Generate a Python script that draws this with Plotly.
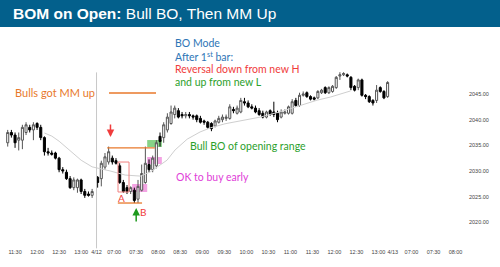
import plotly.graph_objects as go

# ---------------- data (5-min bars) ----------------
day1_open  = [2035.5, 2037.5, 2037.0, 2036.0, 2036.0, 2037.5, 2038.5, 2038.0, 2039.25, 2038.5, 2036.5, 2033.75,
              2033.5, 2033.5, 2032.5, 2030.25, 2029.75, 2028.5, 2026.75, 2026.75, 2028.25, 2026.0, 2025.5, 2025.25]
day1_high  = [2038.0, 2038.0, 2037.5, 2037.5, 2039.0, 2039.5, 2039.0, 2039.5, 2039.5, 2039.0, 2036.75, 2034.5,
              2034.0, 2033.75, 2032.75, 2030.75, 2030.25, 2029.0, 2028.75, 2028.5, 2028.5, 2026.5, 2026.0, 2026.5]
day1_low   = [2034.75, 2036.5, 2034.5, 2034.0, 2034.25, 2037.0, 2037.5, 2036.0, 2038.0, 2036.0, 2033.0, 2033.0,
              2033.0, 2032.25, 2029.75, 2029.5, 2028.25, 2026.5, 2026.25, 2025.75, 2025.5, 2024.75, 2025.0, 2024.75]
day1_close = [2037.5, 2037.0, 2035.5, 2036.5, 2038.5, 2039.0, 2038.0, 2039.0, 2038.5, 2036.5, 2033.75, 2033.5,
              2033.25, 2032.5, 2030.25, 2030.0, 2028.5, 2026.75, 2028.25, 2028.25, 2026.0, 2025.25, 2025.25, 2026.0]

day2_open  = [2028.75, 2028.5, 2030.75, 2031.75, 2032.5, 2032.0, 2031.0, 2027.75, 2026.75, 2026.0,
              2026.25, 2024.5, 2026.25, 2027.75, 2031.25, 2030.25, 2031.0, 2036.75, 2036.5, 2038.0,
              2039.25, 2041.0, 2041.75, 2041.0, 2040.75, 2041.0, 2040.75, 2040.75, 2040.25, 2039.75,
              2039.5, 2039.25, 2038.75, 2039.5, 2040.0, 2040.25, 2040.25, 2042.0, 2041.25, 2041.5,
              2043.5, 2043.25, 2042.5, 2042.25, 2041.75, 2041.25, 2040.5, 2041.75, 2041.5, 2041.25,
              2040.5, 2041.25, 2041.25, 2041.25, 2043.75, 2042.75, 2044.75, 2045.25, 2044.5, 2044.25,
              2044.25, 2045.25, 2046.25, 2045.25, 2045.5, 2046.25, 2048.5, 2048.75, 2048.75, 2048.25,
              2046.5, 2046.25, 2047.75, 2044.75, 2044.5, 2043.75, 2043.75, 2046.25, 2045.5, 2044.5]
day2_high  = [2029.0, 2032.0, 2033.5, 2034.75, 2033.0, 2032.5, 2031.5, 2028.25, 2027.25, 2027.0,
              2026.75, 2028.25, 2031.25, 2034.75, 2032.25, 2033.0, 2036.0, 2037.5, 2039.5, 2041.25,
              2042.75, 2042.75, 2042.25, 2041.5, 2041.5, 2041.5, 2041.0, 2041.0, 2040.75, 2040.0,
              2039.75, 2039.5, 2040.0, 2040.75, 2041.0, 2041.0, 2043.0, 2042.5, 2042.75, 2044.25,
              2044.25, 2043.75, 2043.0, 2042.75, 2042.25, 2041.75, 2041.75, 2042.0, 2043.5, 2041.75,
              2042.0, 2042.0, 2042.75, 2044.0, 2044.25, 2045.25, 2045.5, 2045.5, 2044.75, 2044.5,
              2045.75, 2046.0, 2046.5, 2046.5, 2046.75, 2048.5, 2049.25, 2049.25, 2049.0, 2048.5,
              2046.75, 2048.0, 2048.0, 2045.0, 2044.75, 2044.0, 2046.75, 2046.5, 2045.75, 2047.5]
day2_low   = [2026.75, 2027.0, 2030.25, 2031.25, 2031.25, 2031.25, 2027.5, 2025.75, 2025.5, 2025.5,
              2023.75, 2023.75, 2026.0, 2027.5, 2029.75, 2029.75, 2030.5, 2034.75, 2035.5, 2037.5,
              2039.0, 2040.25, 2040.25, 2040.25, 2040.25, 2040.25, 2040.0, 2039.5, 2039.25, 2039.0,
              2038.25, 2037.75, 2038.5, 2039.25, 2039.5, 2039.75, 2040.0, 2041.25, 2041.0, 2041.25,
              2042.75, 2042.25, 2042.0, 2041.25, 2040.75, 2040.25, 2040.25, 2040.75, 2040.5, 2039.5,
              2040.25, 2041.0, 2041.0, 2041.0, 2042.5, 2042.5, 2044.5, 2044.25, 2043.75, 2043.75,
              2044.0, 2045.0, 2045.0, 2045.0, 2045.25, 2046.0, 2047.75, 2048.5, 2048.25, 2045.75,
              2045.5, 2045.75, 2044.5, 2044.0, 2043.25, 2042.75, 2043.25, 2045.25, 2044.0, 2044.25]
day2_close = [2027.75, 2031.5, 2032.75, 2033.75, 2031.75, 2031.5, 2027.75, 2026.0, 2026.0, 2026.75,
              2024.25, 2027.0, 2029.5, 2031.5, 2030.25, 2032.5, 2035.5, 2035.75, 2039.0, 2040.5,
              2041.5, 2042.25, 2040.5, 2040.75, 2041.0, 2040.75, 2040.5, 2040.0, 2039.5, 2039.5,
              2038.5, 2038.25, 2039.75, 2040.25, 2040.5, 2040.5, 2042.5, 2041.75, 2042.25, 2043.75,
              2043.25, 2042.5, 2042.25, 2041.5, 2041.0, 2040.5, 2041.5, 2041.0, 2041.0, 2040.0,
              2041.5, 2041.5, 2042.5, 2043.5, 2042.75, 2044.75, 2045.0, 2044.5, 2044.0, 2044.0,
              2045.5, 2045.75, 2045.25, 2046.25, 2046.5, 2048.25, 2048.75, 2049.0, 2048.5, 2046.25,
              2045.75, 2047.75, 2044.75, 2044.5, 2043.5, 2043.25, 2045.75, 2045.5, 2044.25, 2047.25]

# moving average (bar index, price)
ema_x = [10, 12, 14, 16, 18, 20, 23, 24.5, 27.9, 32, 36.1, 38.8, 41.5, 43.4, 45.6, 48.9, 52.4, 55.2,
         59.2, 64.1, 68.8, 75, 79.7, 84.3, 87.9, 90.6, 93.4]
ema_y = [2037.4, 2036.8, 2035.8, 2034.5, 2033.3, 2032.1, 2030.8, 2030.6, 2030.0, 2029.2, 2029.0, 2029.8,
         2031.2, 2032.1, 2034.1, 2036.2, 2037.6, 2038.4, 2039.2, 2039.9, 2040.5, 2041.7, 2042.7, 2043.8,
         2044.4, 2045.0, 2045.6]

tick_pos = [2, 8, 14, 20, 24.2, 29, 35, 41, 47, 53, 59, 65, 71, 77, 83, 89, 95, 101, 104.9, 110, 116, 122]
tick_text = ['11:30', '12:00', '12:30', '13:00', '4/12', '07:00', '07:30', '08:00', '08:30', '09:00',
             '09:30', '10:00', '10:30', '11:00', '11:30', '12:00', '12:30', '13:00', '4/13', '07:00',
             '07:30', '08:00']
price_ticks = [2020, 2025, 2030, 2035, 2040, 2045]

# ---------------- figure ----------------
x1 = list(range(len(day1_open)))
x2 = [24.5 + k for k in range(len(day2_open))]

fig = go.Figure()
fig.add_trace(go.Scatter(x=ema_x, y=ema_y, mode='lines', line=dict(color='#cfcfcf', width=1),
                         hoverinfo='skip', showlegend=False))
fig.add_trace(go.Candlestick(
    x=x1 + x2,
    open=day1_open + day2_open, high=day1_high + day2_high,
    low=day1_low + day2_low, close=day1_close + day2_close,
    increasing=dict(line=dict(color='#555555', width=1), fillcolor='#ffffff'),
    decreasing=dict(line=dict(color='#000000', width=1), fillcolor='#000000'),
    whiskerwidth=0, showlegend=False))

ORANGE = '#E8792B'
RED = '#F03C3C'
GREEN = '#2CA02C'
BLUE = '#2E75B6'
MAGENTA = '#E040D8'
TF = 'Lato'

shapes = [
    # title bar
    dict(type='rect', xref='paper', yref='paper', x0=0, x1=1.07, y0=1.014, y1=1.15,
         fillcolor='#03608C', line=dict(width=0), layer='above'),
    # session break
    dict(type='line', x0=24.2, x1=24.2, yref='paper', y0=-0.03, y1=0.80,
         line=dict(color='#c8c8c8', width=1)),
    # measured move line
    dict(type='line', x0=27.6, x1=40.4, y0=2045.2, y1=2045.2, line=dict(color=ORANGE, width=1.3)),
    # opening range high
    dict(type='line', x0=27.1, x1=40.1, y0=2034.5, y1=2034.5, line=dict(color=ORANGE, width=1.3)),
    # opening range low
    dict(type='line', x0=30.0, x1=36.6, y0=2023.75, y1=2023.75, line=dict(color=ORANGE, width=1.3)),
    # boxes
    dict(type='rect', x0=38.0, x1=42.0, y0=2034.67, y1=2036.03, fillcolor='rgba(95,195,95,0.75)',
         line=dict(width=0), layer='below'),
    dict(type='rect', x0=38.0, x1=42.0, y0=2031.35, y1=2032.72, fillcolor='rgba(240,140,220,0.8)',
         line=dict(width=0), layer='below'),
    dict(type='rect', x0=33.9, x1=38.0, y0=2025.9, y1=2027.46, fillcolor='rgba(240,140,220,0.8)',
         line=dict(width=0), layer='below'),
    dict(type='rect', x0=30.05, x1=33.05, y0=2025.9, y1=2031.74, fillcolor='rgba(0,0,0,0)',
         line=dict(color='#F08080', width=1)),
]

annotations = [
    dict(xref='paper', yref='paper', x=0.024, y=1.078, xanchor='left', yanchor='middle', showarrow=False,
         text='<b>BOM on Open:</b> Bull BO, Then MM Up',
         font=dict(family='Liberation Sans', size=15.5, color='white')),
    dict(x=12.9, y=2045.2, text='Bulls got MM up', showarrow=False, font=dict(family=TF, size=11, color=ORANGE)),
    dict(x=45.0, y=2054.94, xanchor='left', text='BO Mode', showarrow=False, font=dict(family=TF, size=10.5, color=BLUE)),
    dict(x=45.0, y=2052.41, xanchor='left', text='After 1<sup>st</sup> bar:', showarrow=False,
         font=dict(family=TF, size=10.5, color=BLUE)),
    dict(x=45.0, y=2049.87, xanchor='left', text='Reversal down from new H', showarrow=False,
         font=dict(family=TF, size=10.5, color=RED)),
    dict(x=45.0, y=2047.34, xanchor='left', text='and up from new L', showarrow=False,
         font=dict(family=TF, size=10.5, color=GREEN)),
    dict(x=65.5, y=2034.86, text='Bull BO of opening range', showarrow=False, font=dict(family=TF, size=10.5, color=GREEN)),
    dict(x=55.8, y=2028.82, text='OK to buy early', showarrow=False, font=dict(family=TF, size=10.5, color=MAGENTA)),
    dict(x=31.1, y=2024.7, text='A', showarrow=False, font=dict(family=TF, size=10, color=RED)),
    dict(x=36.9, y=2022.0, text='B', showarrow=False, font=dict(family=TF, size=10, color=RED)),
    dict(x=28, y=2036.6, ax=28, ay=2039.35, axref='x', ayref='y', text='', showarrow=True,
         arrowhead=2, arrowsize=1, arrowwidth=1.5, arrowcolor=RED),
    dict(x=35.0, y=2022.78, ax=35.0, ay=2019.85, axref='x', ayref='y', text='', showarrow=True,
         arrowhead=2, arrowsize=1, arrowwidth=1.5, arrowcolor='#1E9A1E'),
]

fig.update_layout(
    width=500, height=267, margin=dict(l=0, r=32, t=30, b=25),
    paper_bgcolor='white', plot_bgcolor='white', boxgap=0.2,
    shapes=shapes, annotations=annotations, showlegend=False,
    xaxis=dict(range=[-2.1, 125.4], tickvals=tick_pos, ticktext=tick_text, showgrid=False, zeroline=False,
               showline=False, ticks='outside', ticklen=4, tickcolor='rgba(0,0,0,0)',
               rangeslider=dict(visible=False),
               tickfont=dict(family='Liberation Sans', size=5.5, color='#444')),
    yaxis=dict(range=[2016.15, 2057.48], side='right', tickvals=price_ticks,
               ticktext=[f'{v:.2f}' for v in price_ticks], showgrid=False, zeroline=False, showline=False,
               ticks='', tickfont=dict(family='Liberation Sans', size=5.5, color='#444')),
)

fig.write_html('out.html')
